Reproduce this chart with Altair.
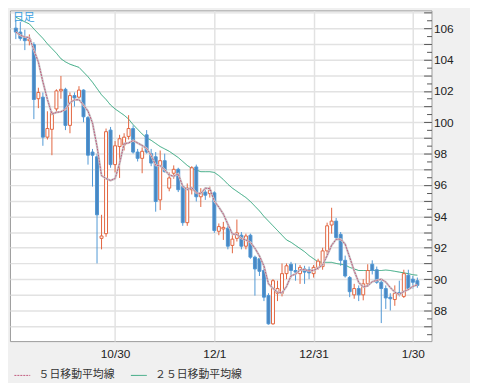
import altair as alt
import pandas as pd

# trading days (category labels)
dates = [f"{d.month}/{d.day}" for d in pd.bdate_range("2008-09-30", "2009-02-02")]

opens = [106.00, 105.75, 105.40, 105.20, 104.95, 101.50, 101.60, 99.05, 99.55, 100.85,
         102.00, 102.10, 99.80, 101.70, 101.60, 102.05, 100.30, 98.10, 97.80, 92.60,
         92.90, 99.50, 97.30, 98.45, 98.55, 99.10, 99.60, 98.10, 97.70, 99.20,
         98.00, 97.80, 95.05, 97.55, 95.80, 96.75, 97.00, 95.90, 93.60, 95.70,
         97.15, 95.25, 95.55, 95.45, 95.50, 93.05, 93.20, 93.25, 92.15, 92.60,
         92.80, 92.10, 92.80, 91.40, 91.30, 90.55, 88.95, 87.15, 89.10, 89.10,
         90.35, 90.95, 90.55, 90.35, 90.65, 90.60, 90.35, 90.75, 90.80, 91.80,
         93.45, 93.70, 92.85, 91.20, 90.10, 89.00, 89.40, 89.00, 89.70, 90.95,
         90.60, 89.80, 89.40, 88.85, 88.70, 89.15, 88.90, 90.25, 90.00, 89.90]
highs = [106.50, 106.40, 105.90, 105.60, 105.10, 102.20, 101.90, 100.70, 100.70, 102.10,
         102.95, 102.20, 101.90, 101.90, 102.30, 102.10, 100.40, 98.30, 98.00, 94.10,
         99.60, 99.70, 98.80, 99.20, 99.30, 100.45, 99.80, 98.30, 98.40, 99.50,
         98.30, 98.10, 98.20, 98.00, 96.80, 97.25, 97.10, 96.00, 96.10, 97.20,
         97.30, 95.80, 95.70, 95.90, 95.60, 93.55, 93.65, 93.50, 92.80, 93.80,
         93.00, 92.90, 92.90, 91.50, 91.40, 90.70, 89.10, 90.00, 89.90, 91.00,
         91.00, 91.10, 91.00, 90.90, 90.85, 90.80, 90.90, 91.30, 92.00, 93.60,
         94.55, 93.90, 93.00, 91.50, 90.20, 89.70, 89.60, 90.00, 90.95, 91.20,
         90.80, 90.00, 89.60, 89.10, 89.60, 89.90, 90.60, 90.60, 90.20, 90.10]
lows = [105.30, 105.20, 104.60, 104.90, 100.20, 100.90, 98.50, 98.90, 97.90, 100.60,
        101.50, 99.50, 99.30, 101.00, 101.50, 100.00, 97.30, 95.90, 91.00, 91.90,
        92.70, 97.10, 96.80, 96.45, 98.20, 98.90, 98.00, 97.50, 96.75, 98.00,
        97.20, 94.30, 94.40, 96.80, 95.60, 96.40, 95.55, 93.40, 93.40, 95.40,
        94.95, 94.60, 95.05, 95.20, 92.95, 92.80, 92.50, 91.90, 91.65, 92.40,
        91.90, 91.90, 91.30, 88.95, 90.20, 88.60, 87.10, 87.10, 88.60, 88.90,
        90.00, 90.10, 89.90, 89.70, 89.70, 90.00, 90.10, 90.60, 90.60, 91.50,
        92.90, 92.50, 90.85, 90.10, 88.85, 88.75, 88.60, 88.65, 89.50, 90.30,
        89.70, 87.20, 88.10, 88.00, 88.30, 88.90, 88.80, 89.50, 89.40, 89.45]
closes = [105.75, 105.35, 105.20, 105.30, 101.45, 101.90, 99.05, 99.60, 100.60, 102.00,
          102.10, 99.80, 101.70, 101.55, 102.05, 100.35, 97.90, 97.90, 94.10, 92.75,
          99.40, 97.30, 98.50, 98.95, 99.05, 99.60, 98.10, 97.70, 98.15, 98.10,
          97.40, 94.95, 97.55, 96.85, 96.45, 97.00, 95.70, 93.60, 95.80, 97.10,
          95.25, 95.50, 95.35, 95.65, 93.10, 93.35, 93.30, 92.10, 92.55, 92.95,
          92.10, 92.75, 91.40, 90.65, 90.50, 88.85, 87.15, 89.90, 89.40, 90.35,
          90.85, 90.55, 90.45, 90.75, 90.45, 90.40, 90.75, 91.15, 91.80, 93.40,
          93.70, 92.65, 91.20, 90.20, 89.20, 89.40, 89.00, 89.70, 90.55, 90.55,
          89.80, 89.40, 88.80, 88.75, 89.10, 89.05, 90.35, 89.40, 89.80, 89.60]
ma25 = [106.70, 106.55, 106.40, 106.27, 105.95, 105.65, 105.35, 105.00, 104.70, 104.40,
        104.05, 103.85, 103.70, 103.60, 103.50, 103.20, 102.90, 102.55, 102.15, 101.75,
        101.45, 101.10, 100.85, 100.65, 100.45, 100.20, 99.85, 99.55, 99.25, 99.00,
        98.85, 98.65, 98.45, 98.30, 98.15, 97.95, 97.75, 97.50, 97.25, 97.05,
        96.95, 96.85, 96.85, 96.85, 96.80, 96.60, 96.35, 96.05, 95.80, 95.60,
        95.40, 95.20, 94.95, 94.65, 94.35, 94.00, 93.70, 93.40, 93.10, 92.80,
        92.50, 92.35, 92.15, 91.95, 91.75, 91.50, 91.30, 91.10, 91.08, 91.07,
        91.07, 91.00, 90.95, 90.90, 90.75, 90.65, 90.55, 90.55, 90.55, 90.55,
        90.55, 90.55, 90.58, 90.55, 90.50, 90.45, 90.40, 90.35, 90.28, 90.25]

tick_labels = ["10/30", "12/1", "12/31", "1/30"]
tick_pos = [dates.index(t) for t in tick_labels]
y_ticks = [86.5 + 0.5 * k for k in range(42)]
series = ["５日移動平均線", "２５日移動平均線"]

df = pd.DataFrame({"i": list(range(len(dates))), "date": dates, "open": opens,
                   "high": highs, "low": lows, "close": closes, "ma25": ma25})
df["dir"] = ["up" if c >= o else "down" for o, c in zip(opens, closes)]

label_expr = " : ".join(f"datum.value == {p} ? '{t}'" for p, t in zip(tick_pos, tick_labels)) + " : ''"

LF = "Liberation Sans"
JF = "Noto Sans CJK JP"

x_enc = alt.X("i:Q", scale=alt.Scale(domain=[-0.2, 91.04], nice=False, zero=False),
              axis=alt.Axis(values=tick_pos, labelExpr=label_expr, title=None, grid=True,
                            ticks=False, domain=False, labelPadding=8, gridColor="#e2e2e2",
                            gridWidth=1.5, labelFont=LF, labelFontSize=12, labelColor="#222"))
y_scale = alt.Scale(domain=[86.05, 107.13], nice=False, zero=False)
y_axis = alt.Axis(orient="right", values=y_ticks, title=None, offset=-8, tickSize=8,
                  tickColor="#555", domain=False, labelPadding=2,
                  labelExpr="datum.value % 2 == 0 ? format(datum.value, 'd') : ''",
                  tickDash={"condition": {"test": "datum.value % 1 != 0", "value": [0, 3, 5]},
                            "value": [8, 0]},
                  gridOpacity={"condition": {"test": "datum.value % 1 == 0", "value": 1},
                               "value": 0},
                  grid=True, gridColor="#e2e2e2", gridWidth=1.5,
                  labelFont=LF, labelFontSize=12, labelColor="#222")

base = alt.Chart(df)
dir_stroke = alt.Stroke("dir:N", scale=alt.Scale(domain=["up", "down"], range=["#e2653f", "#4f97d4"]), legend=None)
dir_fill = alt.Fill("dir:N", scale=alt.Scale(domain=["up", "down"], range=["#ffffff", "#4a87c2"]), legend=None)

wick = base.mark_rule(strokeWidth=1).encode(
    x=x_enc, y=alt.Y("low:Q", scale=y_scale, axis=y_axis), y2="high:Q", stroke=dir_stroke)
body = base.mark_bar(size=3, strokeWidth=1).encode(
    x=x_enc, y=alt.Y("open:Q", scale=y_scale, axis=y_axis), y2="close:Q",
    fill=dir_fill, stroke=dir_stroke)

color = alt.Color("s:N", scale=alt.Scale(domain=series, range=["#c0587c", "#2ea47a"]),
                  legend=alt.Legend(title=None, orient="none", legendX=4, legendY=361,
                                    direction="horizontal", symbolType="stroke", symbolSize=256,
                                    symbolStrokeWidth=1, labelFont=JF, labelFontSize=11,
                                    labelColor="#333", columnPadding=14, labelOffset=8, padding=0))
dash = alt.StrokeDash("s:N", scale=alt.Scale(domain=series, range=[[2, 1], [1, 0]]), legend=None)

ma5_base = base.transform_window(ma5="mean(close)", frame=[-4, 0], sort=[alt.SortField("i")])
ma5_shadow = ma5_base.mark_line(strokeWidth=2.2, color="#cacaca").encode(
    x=x_enc, y=alt.Y("ma5:Q", scale=y_scale, axis=y_axis))
ma5_line = ma5_base.transform_calculate(s=f"'{series[0]}'").mark_line(strokeWidth=1).encode(
    x=x_enc, y=alt.Y("ma5:Q", scale=y_scale, axis=y_axis), color=color, strokeDash=dash)
ma25_line = base.transform_calculate(s=f"'{series[1]}'").mark_line(strokeWidth=1).encode(
    x=x_enc, y=alt.Y("ma25:Q", scale=y_scale, axis=y_axis), color=color, strokeDash=dash)

chart = alt.layer(ma25_line, wick, body, ma5_shadow, ma5_line).properties(
    width=427, height=335,
    autosize=alt.AutoSizeParams(type="none"),
    padding={"left": 2, "top": 0, "right": 39, "bottom": 40},
    title=alt.TitleParams("日足", anchor="start", offset=-13, dx=3, fontSize=11,
                          color="#3a9ee0", font=JF, fontWeight="normal"),
).configure(background="#f0f0f0").configure_view(fill="white", stroke="#9a9a9a")

chart.save("out.html", embed_options={"renderer": "svg", "actions": False})
